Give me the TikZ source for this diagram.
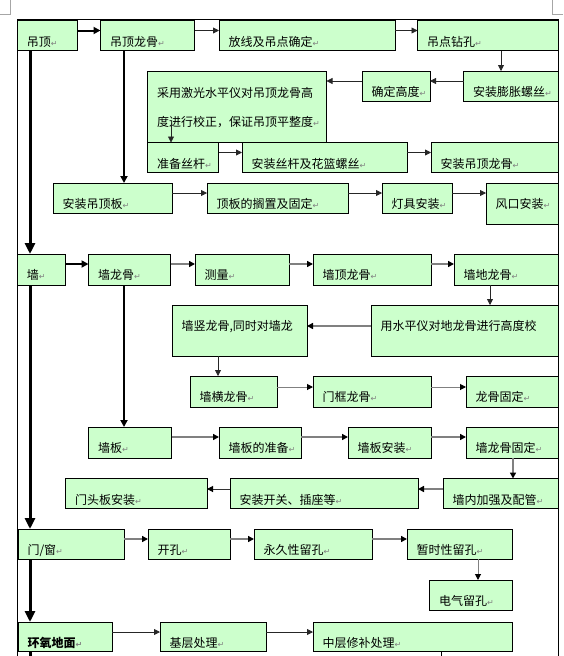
\documentclass[tikz,border=0pt]{standalone}
\usepackage{fontspec}
\usepackage{tikz}
\usetikzlibrary{arrows.meta}
\newfontfamily\cjk{Noto Sans CJK SC}
\newfontfamily\symfont{DejaVu Sans}
\definecolor{boxgreen}{HTML}{CCFFCC}
\definecolor{linegray}{HTML}{808080}
\newcommand{\retmark}{{\symfont\fontsize{8}{8}\selectfont\color{linegray}↵}}

\begin{document}
\begin{tikzpicture}[x=1pt,y=-1pt]
\tikzstyle{stepbox}=[draw=black, line width=0.8pt, fill=boxgreen, anchor=north west, inner xsep=9.5pt, inner ysep=0pt, outer sep=0pt, text height=25.5pt, text depth=4.5pt, align=left, font=\cjk\fontsize{12}{29}\selectfont]
\tikzstyle{thinarrow}=[draw=black!85, line width=0.8pt, -{Triangle[length=6pt,width=6pt]}]
\tikzstyle{grayarrow}=[draw=linegray, line width=1.5pt, -{Triangle[length=6pt,width=6pt,color=black]}]
\tikzstyle{boldarrow}=[draw=black, line width=2pt, -{Triangle[length=7pt,width=7pt]}]
\tikzstyle{mainarrow}=[draw=black, line width=3pt, -{Triangle[length=11pt,width=10pt]}]
\useasboundingbox (0,0) rectangle (563,656);
% page marks and frame
\draw [black!35, line width=0.8pt] (0,14.5) -- (10.5,14.5) -- (10.5,0);
\draw [black!35, line width=0.8pt] (563,14.5) -- (552.5,14.5) -- (552.5,0);
\draw [black, line width=0.8pt] (17.5,656) -- (17.5,19.5) -- (558,19.5) -- (558,656);
% ceiling
\node [stepbox, text width=40.5pt] (diaoding) at (17.5,20.5) {吊顶\retmark};
\node [stepbox, text width=75pt] (ddlonggu) at (100.5,20.5) {吊顶龙骨\retmark};
\node [stepbox, text width=157pt] (fangxian) at (219,20.5) {放线及吊点确定\retmark};
\node [stepbox, text width=121.5pt] (zuankong) at (417.5,20.5) {吊点钻孔\retmark};
\node [stepbox, text width=75.5pt] (pengzhang) at (463.5,71) {安装膨胀螺丝\retmark};
\node [stepbox, text width=49pt] (gaodu) at (362,71) {确定高度\retmark};
\node [stepbox, text width=160pt, text depth=45.5pt] (jiaozheng) at (147.5,71.5) {采用激光水平仪对吊顶龙骨高\\度进行校正，保证吊顶平整度\retmark};
\node [stepbox, text width=52pt] (sigan) at (147.5,142.5) {准备丝杆\retmark};
\node [stepbox, text width=146pt] (hualan) at (242,142.5) {安装丝杆及花篮螺丝\retmark};
\node [stepbox, text width=108pt] (anlonggu) at (431,142.5) {安装吊顶龙骨\retmark};
\node [stepbox, text width=100pt] (diaodingban) at (53,183) {安装吊顶板\retmark};
\node [stepbox, text width=122pt] (gezhi) at (207,183) {顶板的搁置及固定\retmark};
\node [stepbox, text width=51pt] (dengju) at (382,183) {灯具安装\retmark};
\node [stepbox, text width=53pt, text depth=15.5pt] (fengkou) at (486,183) {风口安装\retmark};
% wall
\node [stepbox, text width=29pt, text depth=5.5pt] (qiang) at (17.5,254) {墙\retmark};
\node [stepbox, text width=63pt, text depth=5.5pt] (qlonggu) at (88.5,254) {墙龙骨\retmark};
\node [stepbox, text width=75pt, text depth=5.5pt] (celiang) at (195,254) {测量\retmark};
\node [stepbox, text width=99pt, text depth=5.5pt] (dinglonggu) at (313,254) {墙顶龙骨\retmark};
\node [stepbox, text width=85pt, text depth=5.5pt] (dilonggu) at (454,254) {墙地龙骨\retmark};
\node [stepbox, text width=168pt, text depth=25.5pt] (shuiping) at (371,305) {用水平仪对地龙骨进行高度校};
\node [stepbox, text width=116pt, text depth=25.5pt] (shulonggu) at (172,305) {墙竖龙骨,同时对墙龙};
\node [stepbox, text width=68pt, text depth=5.5pt] (henglonggu) at (190,376) {墙横龙骨\retmark};
\node [stepbox, text width=99pt, text depth=5.5pt] (menkuang) at (313,376) {门框龙骨\retmark};
\node [stepbox, text width=73pt, text depth=5.5pt] (gudinga) at (466,376) {龙骨固定\retmark};
\node [stepbox, text width=64pt, text depth=5.5pt] (qiangban) at (88.5,427) {墙板\retmark};
\node [stepbox, text width=63pt, text depth=5.5pt] (zhunbei) at (219,427) {墙板的准备\retmark};
\node [stepbox, text width=64pt, text depth=5.5pt] (anzhuang) at (348,427) {墙板安装\retmark};
\node [stepbox, text width=73pt, text depth=5.5pt] (gudingb) at (466,427) {墙龙骨固定\retmark};
\node [stepbox, text width=96pt, text depth=4pt] (jiaqiang) at (443,478.5) {墙内加强及配管\retmark};
\node [stepbox, text width=169pt, text depth=4pt] (kaiguan) at (230,478.5) {安装开关、插座等\retmark};
\node [stepbox, text width=122.5pt, text depth=4pt] (mentou) at (65.5,478.5) {门头板安装\retmark};
% door and window
\node [stepbox, text width=87pt] (menchuang) at (18,529) {门/窗\retmark};
\node [stepbox, text width=63pt] (kaikong) at (148,529) {开孔\retmark};
\node [stepbox, text width=99pt] (yongjiu) at (254,529) {永久性留孔\retmark};
\node [stepbox, text width=86pt] (zanshi) at (407,529) {暂时性留孔\retmark};
\node [stepbox, text width=63.5pt] (dianqi) at (429.5,580) {电气留孔\retmark};
% floor
\node [stepbox, text width=75pt, text depth=3.5pt, font=\cjk\bfseries\fontsize{12}{29}\selectfont] (huanyang) at (18,622) {环氧地面\retmark};
\node [stepbox, text width=87pt, text depth=3.5pt] (jiceng) at (160,622) {基层处理\retmark};
\node [stepbox, text width=180pt, text depth=3.5pt] (zhongceng) at (313,622) {中层修补处理\retmark};
\coordinate (floorend) at (30,656);
\coordinate (patchend) at (441.5,656);
% ceiling connectors
\draw [boldarrow] ([yshift=-10pt]diaoding.north east) -- ([yshift=-10pt]ddlonggu.north west);
\draw [thinarrow] ([yshift=-10pt]ddlonggu.north east) -- ([yshift=-10pt]fangxian.north west);
\draw [thinarrow] ([yshift=-10pt]fangxian.north east) -- ([yshift=-10pt]zuankong.north west);
\draw [thinarrow] ([xshift=83.5pt]zuankong.south west) -- ([xshift=37.5pt]pengzhang.north west);
\draw [thinarrow] ([yshift=-10pt]pengzhang.north west) -- ([yshift=-10pt]gaodu.north east);
\draw [thinarrow] ([yshift=-10pt]gaodu.north west) -- ([yshift=-9.5pt]jiaozheng.north east);
\draw [thinarrow] ([xshift=23.5pt,yshift=19.5pt]jiaozheng.south west) -- ([xshift=23.5pt]sigan.north west);
\draw [thinarrow] ([yshift=-10pt]sigan.north east) -- ([yshift=-10pt]hualan.north west);
\draw [thinarrow] ([yshift=-10pt]hualan.north east) -- ([yshift=-10pt]anlonggu.north west);
\draw [boldarrow] ([xshift=23.5pt]ddlonggu.south west) -- ([xshift=71pt]diaodingban.north west);
\draw [thinarrow] ([yshift=-10pt]diaodingban.north east) -- ([yshift=-10pt]gezhi.north west);
\draw [thinarrow] ([yshift=-10pt]gezhi.north east) -- ([yshift=-10pt]dengju.north west);
\draw [thinarrow] ([yshift=-10pt]dengju.north east) -- ([yshift=-10pt]fengkou.north west);
% wall connectors
\draw [boldarrow] ([yshift=-10pt]qiang.north east) -- ([yshift=-10pt]qlonggu.north west);
\draw [grayarrow] ([yshift=-10pt]qlonggu.north east) -- ([yshift=-10pt]celiang.north west);
\draw [grayarrow] ([yshift=-10pt]celiang.north east) -- ([yshift=-10pt]dinglonggu.north west);
\draw [grayarrow] ([yshift=-10pt]dinglonggu.north east) -- ([yshift=-10pt]dilonggu.north west);
\draw [thinarrow] ([xshift=36pt]dilonggu.south west) -- ([xshift=119pt]shuiping.north west);
\draw [grayarrow] ([yshift=-21pt]shuiping.north west) -- ([yshift=-21pt]shulonggu.north east);
\draw [thinarrow] ([xshift=46pt]shulonggu.south west) -- ([xshift=28pt]henglonggu.north west);
\draw [grayarrow, line width=1pt] ([yshift=-11pt]henglonggu.north east) -- ([yshift=-11pt]menkuang.north west);
\draw [grayarrow, line width=1pt] ([yshift=-11pt]menkuang.north east) -- ([yshift=-11pt]gudinga.north west);
\draw [boldarrow] ([xshift=35.5pt]qlonggu.south west) -- ([xshift=35.5pt]qiangban.north west);
\draw [grayarrow] ([yshift=-10pt]qiangban.north east) -- ([yshift=-10pt]zhunbei.north west);
\draw [grayarrow] ([yshift=-10pt]zhunbei.north east) -- ([yshift=-10pt]anzhuang.north west);
\draw [grayarrow] ([yshift=-10pt]anzhuang.north east) -- ([yshift=-10pt]gudingb.north west);
\draw [grayarrow, line width=2pt] ([xshift=47pt]gudingb.south west) -- ([xshift=70pt]jiaqiang.north west);
\draw [grayarrow] ([yshift=-10.5pt]jiaqiang.north west) -- ([yshift=-10.5pt]kaiguan.north east);
\draw [grayarrow, draw=black!80, line width=1pt] ([yshift=-10.5pt]kaiguan.north west) -- ([yshift=-10.5pt]mentou.north east);
% door and window connectors
\draw [grayarrow] ([yshift=-10pt]menchuang.north east) -- ([yshift=-10pt]kaikong.north west);
\draw [grayarrow] ([yshift=-10pt]kaikong.north east) -- ([yshift=-10pt]yongjiu.north west);
\draw [grayarrow] ([yshift=-10pt]yongjiu.north east) -- ([yshift=-10pt]zanshi.north west);
\draw [grayarrow, line width=1pt] ([xshift=71pt]zanshi.south west) -- ([xshift=48.5pt]dianqi.north west);
% floor connectors
\draw [thinarrow] ([yshift=-10pt]huanyang.north east) -- ([yshift=-10pt]jiceng.north west);
\draw [thinarrow] ([yshift=-10pt]jiceng.north east) -- ([yshift=-10pt]zhongceng.north west);
\draw [black, line width=0.8pt] ([xshift=128.5pt]zhongceng.south west) -- (patchend);
% main line
\draw [mainarrow] ([xshift=12.5pt]diaoding.south west) -- ([xshift=12.5pt]qiang.north west);
\draw [mainarrow] ([xshift=12.5pt]qiang.south west) -- ([xshift=12pt]menchuang.north west);
\draw [mainarrow] ([xshift=12pt]menchuang.south west) -- ([xshift=12pt]huanyang.north west);
\draw [black, line width=3pt] ([xshift=12pt]huanyang.south west) -- (floorend);
\end{tikzpicture}
\end{document}
